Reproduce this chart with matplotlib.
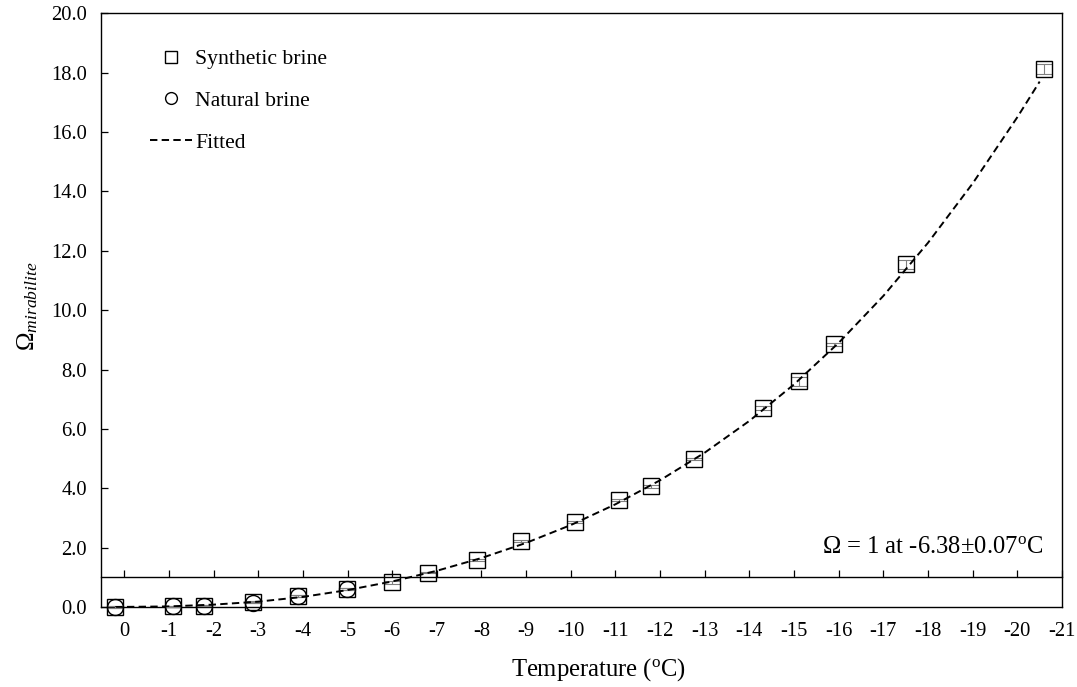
import numpy as np
import matplotlib.pyplot as plt
from matplotlib.lines import Line2D

plt.rcParams['font.family'] = ['Liberation Serif', 'DejaVu Serif']
plt.rcParams['mathtext.fontset'] = 'custom'
plt.rcParams['mathtext.rm'] = 'Liberation Serif'
plt.rcParams['mathtext.it'] = 'Liberation Serif:italic'
plt.rcParams['axes.unicode_minus'] = False

# synthetic brine (temperature in degC, saturation index, error)
syn_t = [0.21, -1.10, -1.79, -2.89, -3.89, -4.99, -6.00, -6.80, -7.90, -8.89,
         -10.10, -11.09, -11.80, -12.77, -14.30, -15.10, -15.89, -17.51, -20.59]
syn_y = [0.00, 0.02, 0.05, 0.16, 0.37, 0.61, 0.83, 1.16, 1.58, 2.23,
         2.86, 3.60, 4.07, 4.99, 6.71, 7.60, 8.85, 11.54, 18.13]
syn_err = [0.02, 0.02, 0.03, 0.03, 0.03, 0.03, 0.04, 0.03, 0.03, 0.03,
           0.03, 0.04, 0.05, 0.04, 0.06, 0.15, 0.06, 0.16, 0.16]

# natural brine
nat_t = [0.21, -1.10, -1.79, -2.89, -3.89, -4.99]
nat_y = [0.00, 0.02, 0.05, 0.15, 0.37, 0.60]
nat_err = [0.02, 0.02, 0.02, 0.03, 0.03, 0.03]

# fitted curve
fit_t = [0.2, -1, -2, -3, -4, -5, -6, -7, -8, -9, -10, -11, -12, -13, -14,
         -15, -16, -17, -18, -19, -20, -20.5]
fit_y = [0.0, 0.02, 0.08, 0.18, 0.34, 0.57, 0.86, 1.22, 1.65, 2.16, 2.76,
         3.46, 4.27, 5.20, 6.27, 7.50, 8.90, 10.48, 12.27, 14.27, 16.50, 17.70]

x_ticks = list(range(0, -22, -1))
x_labels = [str(v) for v in x_ticks]
y_ticks = [0, 2, 4, 6, 8, 10, 12, 14, 16, 18, 20]
y_labels = ['%.1f' % v for v in y_ticks]

fig = plt.figure(figsize=(10.77, 6.87), dpi=100)
ax = fig.add_axes([101 / 1077, 1 - 607 / 687, 961 / 1077, 593.7 / 687])

# error bars, markers, fit
ax.errorbar(syn_t, syn_y, yerr=syn_err, fmt='none', ecolor='#808080',
            elinewidth=0.8, capsize=5.5, capthick=0.8, clip_on=False, zorder=3)
ax.errorbar(nat_t, nat_y, yerr=nat_err, fmt='none', ecolor='#808080',
            elinewidth=0.8, capsize=5.5, capthick=0.8, clip_on=False, zorder=3)
ax.plot(syn_t, syn_y, ls='none', marker='s', ms=11.3, mfc='none', mec='black',
        mew=1.0, clip_on=False, zorder=4)
ax.plot(nat_t, nat_y, ls='none', marker='o', ms=11.5, mfc='none', mec='black',
        mew=1.0, clip_on=False, zorder=4)
ax.plot(fit_t, fit_y, color='black', lw=1.4, ls=(0, (3.8, 2.2)), zorder=5)

ax.set_xlim(0.52, -21)
ax.set_ylim(0, 20)
ax.set_xticks(x_ticks)
ax.set_xticklabels(x_labels)
ax.set_yticks(y_ticks)
ax.set_yticklabels(y_labels)

# x axis crosses at y = 1, plot area closed at y = 0
ax.spines['bottom'].set_position(('data', 1))
ax.axhline(0, color='black', lw=1.0, clip_on=False, zorder=2)
for s in ax.spines.values():
    s.set_linewidth(1.0)

ax.tick_params(axis='x', direction='in', length=5, width=0.9, pad=32, labelsize=14.8)
ax.tick_params(axis='y', direction='in', length=5, width=0.9, pad=10, labelsize=14.8)

ax.set_xlabel('Temperature ($^{\\rm o}$C)', fontsize=17.7)
ax.xaxis.set_label_coords(0.518, -0.082)
ax.set_ylabel('Ω$_{mirabilite}$', fontsize=18)
ax.yaxis.set_label_coords(-0.063, 0.507)

ax.text(0.980, 0.101, 'Ω = 1 at -6.38±0.07$^{\\rm o}$C', transform=ax.transAxes,
        ha='right', va='center', fontsize=17.7)

handles = [
    Line2D([], [], ls='none', marker='s', ms=8.5, mfc='none', mec='black', mew=1.0),
    Line2D([], [], ls='none', marker='o', ms=8.5, mfc='none', mec='black', mew=1.0),
    Line2D([], [], color='black', lw=1.4, ls=(0, (3.8, 2.2))),
]
ax.legend(handles, ['Synthetic brine', 'Natural brine', 'Fitted'], loc='upper left',
          bbox_to_anchor=(150 / 1077, 1 - 49 / 687), bbox_transform=fig.transFigure,
          frameon=False, fontsize=15.6, borderpad=0, borderaxespad=0,
          handlelength=1.94, handletextpad=0.15, labelspacing=1.0)

fig.savefig('out.png', dpi=100)
